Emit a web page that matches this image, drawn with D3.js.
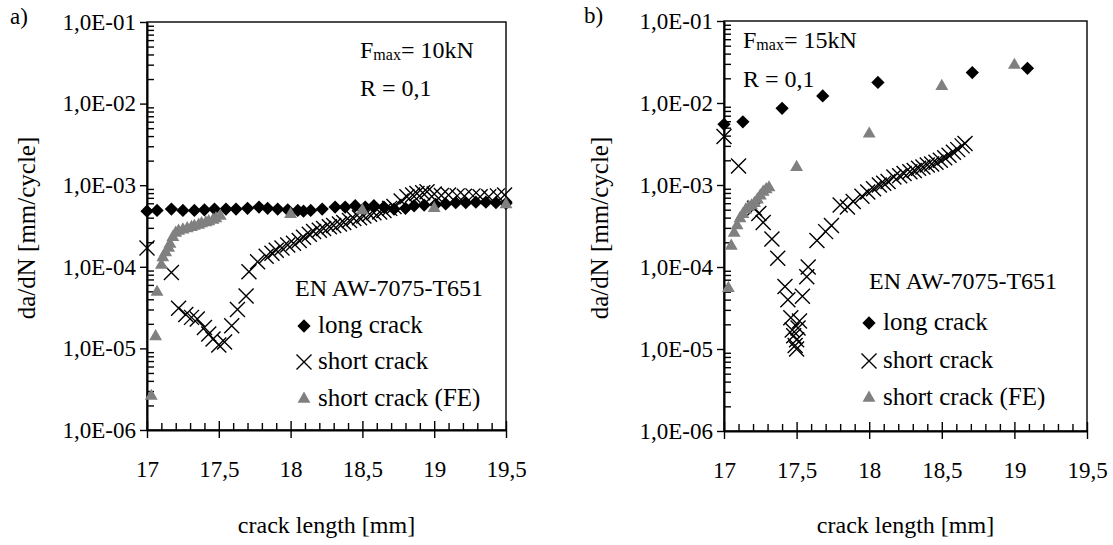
<!DOCTYPE html>
<meta charset="utf-8">
<title>da/dN vs crack length</title>
<script src="https://cdn.jsdelivr.net/npm/d3@7"></script>
<style>
  body { margin: 0; background: #fff; }
  svg text { font-family: "Liberation Serif", "DejaVu Serif", "Noto Serif", serif; fill: #000; }
</style>
<body>
<script>

var xTicks = [17, 17.5, 18, 18.5, 19, 19.5]
   ,xTickLabels = ["17", "17,5", "18", "18,5", "19", "19,5"]
   ,yTicks = [1e-6, 1e-5, 1e-4, 1e-3, 1e-2, 1e-1]
   ,yTickLabels = ["1,0E-06", "1,0E-05", "1,0E-04", "1,0E-03", "1,0E-02", "1,0E-01"]
   ,seriesNames = ["long crack", "short crack", "short crack (FE)"];

// a) Fmax = 10kN
var longA = [[17.00,4.8e-4],[17.07,4.9e-4],[17.17,5.1e-4],[17.25,4.9e-4],[17.33,4.9e-4],[17.40,5.0e-4],
  [17.47,5.1e-4],[17.55,5.1e-4],[17.62,5.1e-4],[17.70,5.2e-4],[17.78,5.4e-4],[17.84,5.2e-4],[17.91,5.1e-4],
  [17.98,5.0e-4],[18.05,4.9e-4],[18.09,4.8e-4],[18.14,4.9e-4],[18.22,5.1e-4],[18.31,5.4e-4],[18.38,5.4e-4],
  [18.45,5.6e-4],[18.52,5.4e-4],[18.58,5.6e-4],[18.65,5.4e-4],[18.72,5.1e-4],[18.80,5.2e-4],[18.86,5.6e-4],
  [18.93,5.7e-4],[19.01,5.8e-4],[19.08,5.9e-4],[19.15,6.1e-4],[19.22,6.1e-4],[19.29,6.2e-4],[19.36,6.2e-4],
  [19.43,6.1e-4],[19.50,6.0e-4]];
var shortA = [[17.00,1.7e-4],[17.17,8.5e-5],[17.22,3.1e-5],[17.27,2.6e-5],[17.31,2.4e-5],[17.35,2.3e-5],
  [17.40,1.8e-5],[17.43,1.5e-5],[17.46,1.3e-5],[17.50,1.1e-5],[17.54,1.2e-5],[17.59,1.9e-5],[17.63,3.0e-5],
  [17.69,4.4e-5],[17.71,8.7e-5],[17.77,1.15e-4],[17.83,1.35e-4],[17.87,1.47e-4],[17.90,1.6e-4],[17.94,1.7e-4],
  [17.98,1.85e-4],[18.02,1.95e-4],[18.06,2.1e-4],[18.09,2.3e-4],[18.13,2.5e-4],[18.16,2.7e-4],[18.20,2.8e-4],
  [18.23,2.95e-4],[18.27,3.1e-4],[18.30,3.2e-4],[18.34,3.35e-4],[18.37,3.5e-4],[18.41,3.7e-4],[18.44,3.9e-4],
  [18.48,4.0e-4],[18.51,4.2e-4],[18.55,4.4e-4],[18.58,4.6e-4],[18.62,4.7e-4],[18.65,4.9e-4],[18.69,5.2e-4],
  [18.72,5.5e-4],[18.77,6.4e-4],[18.81,7.2e-4],[18.85,7.6e-4],[18.88,7.9e-4],[18.92,8.1e-4],[18.95,8.3e-4],
  [19.00,7.8e-4],[19.05,7.5e-4],[19.10,7.6e-4],[19.16,7.4e-4],[19.21,7.3e-4],[19.27,7.4e-4],[19.32,7.2e-4],
  [19.38,7.2e-4],[19.44,7.4e-4],[19.49,7.6e-4]];
var feA = [[17.03,2.6e-6],[17.06,1.4e-5],[17.07,4.9e-5],[17.10,1.05e-4],[17.11,1.3e-4],[17.13,1.5e-4],
  [17.15,1.7e-4],[17.16,1.9e-4],[17.18,2.3e-4],[17.20,2.6e-4],[17.22,2.75e-4],[17.25,2.85e-4],[17.28,2.95e-4],
  [17.31,3.05e-4],[17.33,3.15e-4],[17.36,3.25e-4],[17.38,3.4e-4],[17.41,3.5e-4],[17.43,3.6e-4],[17.46,3.75e-4],
  [17.48,3.9e-4],[17.51,4.2e-4],[18.00,4.4e-4],[18.50,4.9e-4],[19.00,5.2e-4],[19.50,5.8e-4]];

// b) Fmax = 15kN
var longB = [[17.00,5.5e-3],[17.13,5.9e-3],[17.40,8.6e-3],[17.68,1.22e-2],[18.06,1.78e-2],[18.71,2.35e-2],
  [19.09,2.65e-2]];
var shortB = [[17.00,3.9e-3],[17.10,1.7e-3],[17.21,5.2e-4],[17.24,4.5e-4],[17.27,3.5e-4],[17.33,2.2e-4],
  [17.37,1.28e-4],[17.42,5.8e-5],[17.44,4.0e-5],[17.46,2.4e-5],[17.47,1.7e-5],[17.48,1.45e-5],[17.49,1.1e-5],
  [17.50,1.0e-5],[17.50,1.3e-5],[17.51,1.8e-5],[17.52,2.2e-5],[17.54,4.4e-5],[17.57,7.6e-5],[17.58,1.0e-4],
  [17.64,2.1e-4],[17.70,2.7e-4],[17.74,3.2e-4],[17.80,5.7e-4],[17.85,5.4e-4],[17.89,6.3e-4],[17.95,7.3e-4],
  [17.99,8.2e-4],[18.03,9.0e-4],[18.07,1.0e-3],[18.10,1.05e-3],[18.13,1.1e-3],[18.17,1.25e-3],[18.21,1.3e-3],
  [18.24,1.38e-3],[18.28,1.45e-3],[18.31,1.5e-3],[18.34,1.6e-3],[18.37,1.66e-3],[18.40,1.75e-3],[18.43,1.8e-3],
  [18.46,1.9e-3],[18.49,2.0e-3],[18.52,2.15e-3],[18.55,2.3e-3],[18.58,2.5e-3],[18.61,2.7e-3],[18.64,3.0e-3],
  [18.66,3.2e-3]];
var feB = [[17.03,5.5e-5],[17.05,1.8e-4],[17.07,2.6e-4],[17.09,3.2e-4],[17.11,3.9e-4],[17.13,4.4e-4],
  [17.15,5.0e-4],[17.17,5.4e-4],[17.19,5.6e-4],[17.21,6.0e-4],[17.23,6.6e-4],[17.25,7.4e-4],[17.27,8.2e-4],
  [17.29,8.8e-4],[17.31,9.3e-4],[17.50,1.65e-3],[18.00,4.2e-3],[18.50,1.6e-2],[19.00,2.9e-2]];

var svg_w = 1113
   ,svg_h = 545
   ,grey = "#808080"
   ,serif = "'Liberation Serif', 'DejaVu Serif', 'Noto Serif', serif";

var svg = d3.select("body").append("svg")
            .attr("width", svg_w)
            .attr("height", svg_h)
            .attr("font-family", serif);

var panels = [
  {tag: "a)", tagX: 10, tagY: 24, left: 147, right: 506, top: 22, bottom: 430,
   series: [longA, shortA, feA], fmax: "10kN", noteX: 360, noteY: [58, 96],
   titleX: 35, legX: 295, legY: 296, markX: 304, rows: [326, 362, 399]},
  {tag: "b)", tagX: 584, tagY: 23, left: 724, right: 1087, top: 21, bottom: 431,
   series: [longB, shortB, feB], fmax: "15kN", noteX: 743, noteY: [48, 87],
   titleX: 608, legX: 869, legY: 289, markX: 869, rows: [323, 361, 398]}
];

// marker shapes
var diamond = d3.symbol(d3.symbolSquare, 88)();
var triangle = d3.symbol(d3.symbolTriangle, 72)();
var cross = function(r) { return "M" + (-r) + "," + (-r) + "L" + r + "," + r + "M" + r + "," + (-r) + "L" + (-r) + "," + r; };

var minorY = [];
for (var e = -6; e < -1; e++) for (var k = 2; k < 10; k++) minorY.push(k * Math.pow(10, e));
var minorX = d3.range(0, 26).filter(function(i) { return i % 5 != 0 }).map(function(i) { return 17 + i / 10 });

var addMarker = function(g, k, cx, cy) {
  if (k == 0) {
    g.append("path").attr("d", diamond)
      .attr("transform", "translate(" + cx + "," + cy + ") rotate(45)")
      .attr("fill", "#000");
  } else if (k == 1) {
    g.append("path").attr("d", cross(7.5))
      .attr("transform", "translate(" + cx + "," + cy + ")")
      .attr("fill", "none").attr("stroke", "#000").attr("stroke-width", 1.4);
  } else {
    g.append("path").attr("d", triangle)
      .attr("transform", "translate(" + cx + "," + cy + ")")
      .attr("fill", grey);
  }
};

panels.forEach(function(p) {
  var x = d3.scaleLinear().domain([17, 19.5]).range([p.left, p.right]);
  var y = d3.scaleLog().domain([1e-6, 1e-1]).range([p.bottom, p.top]);
  var g = svg.append("g");

  // frame
  g.append("rect")
    .attr("x", p.left).attr("y", p.top)
    .attr("width", p.right - p.left).attr("height", p.bottom - p.top)
    .attr("fill", "none").attr("stroke", "#000").attr("stroke-width", 1.4);

  // y axis
  g.append("g").attr("transform", "translate(" + p.left + ",0)")
    .call(d3.axisLeft(y).tickValues(yTicks)
      .tickFormat(function(d, i) { return yTickLabels[i] })
      .tickSize(7).tickSizeOuter(0).tickPadding(4));
  g.append("g").attr("transform", "translate(" + p.left + ",0)")
    .call(d3.axisRight(y).tickValues(minorY).tickFormat("").tickSize(7).tickSizeOuter(0))
    .select(".domain").remove();

  // x axis
  g.append("g").attr("transform", "translate(0," + p.bottom + ")")
    .call(d3.axisBottom(x).tickValues(xTicks)
      .tickFormat(function(d, i) { return xTickLabels[i] })
      .tickSize(8).tickSizeOuter(0).tickPadding(23));
  g.append("g").attr("transform", "translate(0," + p.bottom + ")")
    .call(d3.axisTop(x).tickValues(xTicks).tickFormat("").tickSize(9).tickSizeOuter(0))
    .select(".domain").remove();
  g.append("g").attr("transform", "translate(0," + p.bottom + ")")
    .call(d3.axisTop(x).tickValues(minorX).tickFormat("").tickSize(7).tickSizeOuter(0))
    .select(".domain").remove();

  // d3 axes put their own font on the group
  g.selectAll("g").attr("font-family", serif).attr("font-size", 23);
  g.selectAll(".domain").attr("stroke", "#000").attr("stroke-width", 2);
  g.selectAll(".tick line").attr("stroke", "#000").attr("stroke-width", 1.4);
  g.selectAll(".tick text").attr("fill", "#000");

  // titles
  g.append("text")
    .attr("transform", "translate(" + p.titleX + "," + ((p.top + p.bottom) / 2 + 2) + ") rotate(-90)")
    .attr("text-anchor", "middle").attr("font-size", 25)
    .text("da/dN [mm/cycle]");
  g.append("text")
    .attr("x", (p.left + p.right) / 2).attr("y", 533)
    .attr("text-anchor", "middle").attr("font-size", 24)
    .text("crack length [mm]");
  g.append("text")
    .attr("x", p.tagX).attr("y", p.tagY).attr("font-size", 23)
    .text(p.tag);

  // load notes
  var f = g.append("text").attr("x", p.noteX).attr("y", p.noteY[0]).attr("font-size", 24);
  f.append("tspan").text("F");
  f.append("tspan").attr("font-size", 16).attr("dy", 2).text("max");
  f.append("tspan").attr("dy", -2).text("= " + p.fmax);
  g.append("text").attr("x", p.noteX).attr("y", p.noteY[1]).attr("font-size", 24)
    .text("R = 0,1");

  // data
  p.series.forEach(function(s, k) {
    var sg = g.append("g");
    s.forEach(function(d) { addMarker(sg, k, x(d[0]), y(d[1])) });
  });

  // legend
  g.append("text").attr("x", p.legX).attr("y", p.legY).attr("font-size", 24)
    .text("EN AW-7075-T651");
  seriesNames.forEach(function(name, k) {
    addMarker(g, k, p.markX, p.rows[k]);
    g.append("text").attr("x", p.markX + 14).attr("y", p.rows[k] + 7).attr("font-size", 25)
      .text(name);
  });
});

</script>
